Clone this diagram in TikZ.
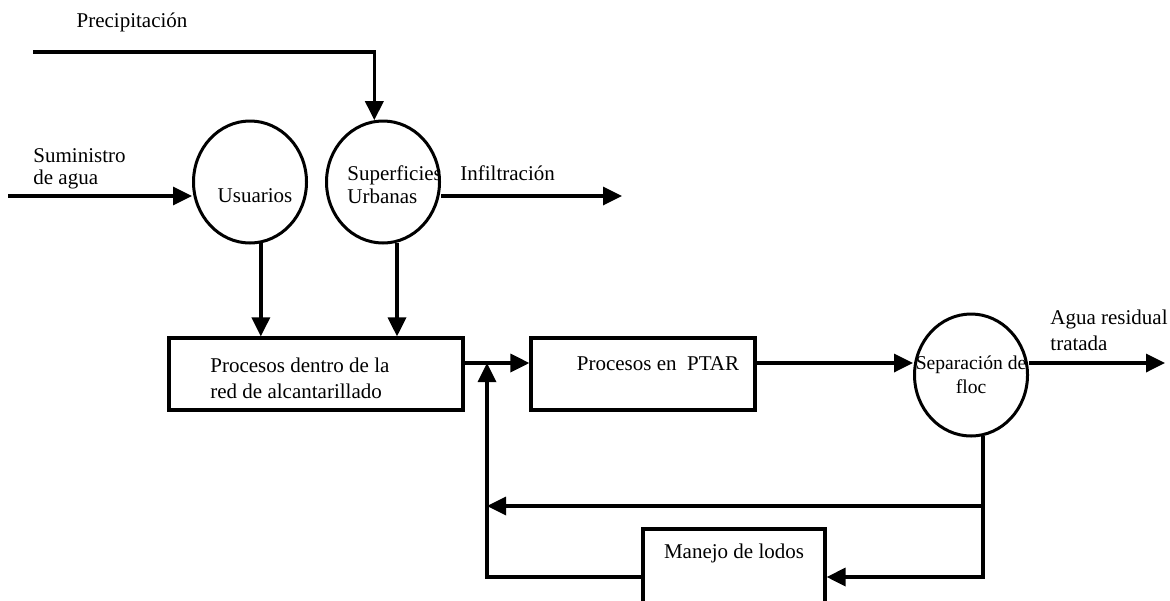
\documentclass[tikz,border=0pt]{standalone}
\usepackage{fontspec}
\setmainfont{Liberation Serif}
\usetikzlibrary{arrows.meta,shapes.geometric}

\tikzset{
  flow/.style={line width=1.7pt, -{Triangle[length=9.5pt,width=9pt]}},
  bubble/.style={ellipse, draw, line width=1.5pt, inner sep=0pt,
    minimum width=56.5pt, minimum height=61pt},
  procbox/.style={rectangle, draw, line width=1.6pt, inner sep=0pt,
    minimum width=147pt, minimum height=36pt},
  txt/.style={inner sep=0pt, font=\fontsize{10.5}{12}\selectfont},
}

\begin{document}
\begin{tikzpicture}[x=0.5pt, y=-0.5pt]
  \useasboundingbox (0,0) rectangle (1170,600);
  \clip (0,0) rectangle (1170,600);

  % sources and consumers
  \node[bubble] (usu) at (250,182) {};
  \node[bubble] (sup) at (383,182) {};
  \node[bubble] (sep) at (971,375) {};

  % process boxes
  \node[procbox] (box1) at (316,374) {};
  \node[procbox, minimum width=112pt] (box2) at (643,374) {};
  \node[procbox, minimum width=91pt, minimum height=48pt] (manejo) at (734,577) {};

  % texts
  \node[txt] (tprec) at (132,22) {Precipitación};
  \node[txt, align=left, anchor=west, font=\fontsize{10.5}{11}\selectfont] (tsum) at (33,169) {Suministro\\de agua};
  \node[txt] (tusu) at (255,196) {Usuarios};
  \node[txt, align=left, anchor=west, font=\fontsize{10.5}{11.5}\selectfont] (tsup) at (347,185) {Superficies\\Urbanas};
  \node[txt, anchor=west] (tinf) at (460,173) {Infiltración};
  \node[txt, align=left, anchor=west, font=\fontsize{10.5}{13}\selectfont] (tbox1) at (210,378) {Procesos dentro de la\\red de alcantarillado};
  \node[txt] (tbox2) at (658,364) {Procesos en\ \ PTAR};
  \node[txt, align=center, font=\fontsize{9.8}{12}\selectfont] (tsep) at (971,375) {Separación de\\floc};
  \node[txt, align=left, anchor=west, font=\fontsize{10.5}{13}\selectfont] (tout) at (1050,330) {Agua residual\\tratada};
  \node[txt] (tman) at (734,553) {Manejo de lodos};

  % free ends of the flows
  \coordinate (pstart) at (33,52);
  \coordinate (sstart) at (8,196);
  \coordinate (infend) at (622,196);
  \coordinate (outend) at (1165,363);
  \coordinate (joint) at (487,363);
  \coordinate (retend) at (487,506);

  % inflows
  \draw[flow] (pstart) -| (sup.98);
  \draw[flow] (sstart) -- (sstart -| usu.west);
  \draw[flow] (infend -| sup.east) -- (infend);
  \draw[flow] (usu.-80) -- (usu.-80 |- box1.north);
  \draw[flow] (sup.-77) -- (sup.-77 |- box1.north);

  % main line
  \draw[flow] ([yshift=5.5pt]box1.east) -- ([yshift=5.5pt]box2.west);
  \draw[flow] ([yshift=5.5pt]box2.east) -- ([yshift=5.5pt]box2.east -| sep.west);
  \draw[flow] ([yshift=5.5pt]box2.east -| sep.east) -- (outend);

  % recirculation and sludge handling
  \draw[flow] (sep.-79) |- (manejo.east);
  \draw[flow] (retend -| sep.-79) -- (retend);
  \draw[flow] (manejo.west) -| (joint);
\end{tikzpicture}
\end{document}
